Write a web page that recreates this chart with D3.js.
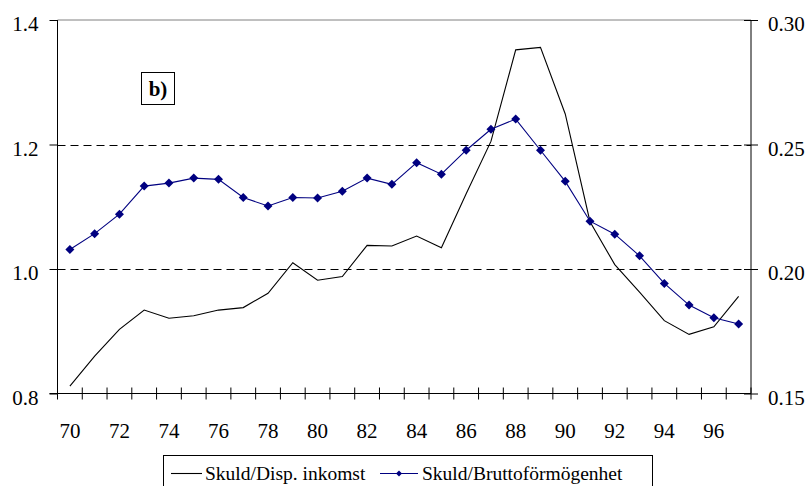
<!DOCTYPE html>
<html>
<head>
<meta charset="utf-8">
<script src="https://cdn.jsdelivr.net/npm/d3@7"></script>
<style>
  html, body { margin: 0; padding: 0; background: #fff; }
  svg { display: block; }
</style>
</head>
<body>
<svg id="chart" width="811" height="486" font-family="Liberation Serif"></svg>
<script>
const years = ["70","71","72","73","74","75","76","77","78","79","80","81","82","83","84","85","86","87","88","89","90","91","92","93","94","95","96","97"];
const skuldInkomst = [0.812,0.860,0.903,0.934,0.921,0.925,0.934,0.938,0.961,1.010,0.982,0.988,1.038,1.037,1.053,1.034,1.121,1.205,1.352,1.356,1.249,1.076,1.007,0.963,0.917,0.895,0.907,0.956];
const skuldBrutto = [0.2078,0.2142,0.2220,0.2333,0.2345,0.2365,0.2360,0.2287,0.2253,0.2287,0.2285,0.2312,0.2365,0.2340,0.2427,0.2381,0.2477,0.2561,0.2602,0.2477,0.2352,0.2192,0.2140,0.2053,0.1942,0.1855,0.1804,0.1779];
const leftTicks = [0.8, 1.0, 1.2, 1.4];
const rightTicks = [0.15, 0.20, 0.25, 0.30];
const gridTicks = [1.0, 1.2];
const xLabelYears = ["70","72","74","76","78","80","82","84","86","88","90","92","94","96"];
const seriesNames = ["Skuld/Disp. inkomst", "Skuld/Bruttoförmögenhet"];
const panelLabel = "b)";

const FONT = "Liberation Serif";
const svg = d3.select("#chart");
const L = 57.5, R = 751, T = 20, B = 393.5;

const x = d3.scaleBand().domain(years).range([L, R]).paddingInner(0).paddingOuter(0);
const yL = d3.scaleLinear().domain([0.8, 1.4]).range([B, T]);
const yR = d3.scaleLinear().domain([0.15, 0.30]).range([B, T]);
const cx = d => x(d) + x.bandwidth() / 2;

// top border
svg.append("line").attr("x1", L).attr("x2", R).attr("y1", T).attr("y2", T)
  .attr("stroke", "#808080").attr("stroke-width", 1);

// dashed grid
svg.append("g").selectAll("line").data(gridTicks).join("line")
  .attr("x1", L).attr("x2", R)
  .attr("y1", d => Math.round(yL(d)) + 0.5).attr("y2", d => Math.round(yL(d)) + 0.5)
  .attr("stroke", "#000").attr("stroke-width", 1).attr("stroke-dasharray", "8,5");

// left axis
const gL = svg.append("g").attr("transform", `translate(${L},0)`)
  .call(d3.axisLeft(yL).tickValues(leftTicks).tickFormat(d3.format(".1f")).tickSize(8).tickPadding(11));
gL.attr("font-family", FONT).attr("font-size", 21);
gL.select(".domain").attr("stroke", "#000").attr("d", `M0,${T}V${B}`);
gL.selectAll("text").attr("dy", "0.5em").attr("fill", "#000");

// right axis
const gR = svg.append("g").attr("transform", `translate(${R},0)`)
  .call(d3.axisRight(yR).tickValues(rightTicks).tickFormat(d3.format(".2f")).tickSize(7).tickPadding(10));
gR.attr("font-family", FONT).attr("font-size", 21);
gR.select(".domain").attr("stroke", "#000").attr("d", `M0,${T}V${B}`);
gR.selectAll(".tick line").attr("x1", -7);
gR.selectAll("text").attr("dy", "0.5em").attr("fill", "#000");

// x axis: ticks between categories
const boundaries = years.map(d => x(d)).concat([R]);
const gX = svg.append("g").attr("font-family", FONT).attr("font-size", 21);
gX.append("line").attr("x1", L - 8).attr("x2", R).attr("y1", B).attr("y2", B).attr("stroke", "#000");
gX.selectAll("line.t").data(boundaries).join("line").attr("class", "t")
  .attr("x1", d => d).attr("x2", d => d).attr("y1", B - 6).attr("y2", B + 6)
  .attr("stroke", "#000");
gX.selectAll("text").data(xLabelYears).join("text")
  .attr("x", d => cx(d)).attr("y", 437.5).attr("text-anchor", "middle")
  .attr("fill", "#000").text(d => d);

// black line (left axis)
const lineL = d3.line().x((d, i) => cx(years[i])).y(d => yL(d));
svg.append("path").datum(skuldInkomst).attr("d", lineL)
  .attr("fill", "none").attr("stroke", "#000").attr("stroke-width", 1.1);

// blue line (right axis)
const lineR = d3.line().x((d, i) => cx(years[i])).y(d => yR(d));
svg.append("path").datum(skuldBrutto).attr("d", lineR)
  .attr("fill", "none").attr("stroke", "#000080").attr("stroke-width", 1.1);
const diamond = "M0,-4.5L4.5,0L0,4.5L-4.5,0Z";
svg.append("g").selectAll("path").data(skuldBrutto).join("path")
  .attr("d", diamond)
  .attr("transform", (d, i) => `translate(${cx(years[i])},${yR(d)})`)
  .attr("fill", "#000080");

// panel label
svg.append("rect").attr("x", 141.5).attr("y", 72.5).attr("width", 33).attr("height", 32)
  .attr("fill", "#fff").attr("stroke", "#000").attr("stroke-width", 1);
svg.append("text").attr("x", 158).attr("y", 96).attr("text-anchor", "middle")
  .attr("font-family", FONT).attr("font-size", 21).attr("font-weight", "bold").text(panelLabel);

// legend
const lg = svg.append("g").attr("font-family", FONT).attr("font-size", 19.5);
lg.append("rect").attr("x", 163.5).attr("y", 455.5).attr("width", 489).attr("height", 40)
  .attr("fill", "#fff").attr("stroke", "#000").attr("stroke-width", 1);
lg.append("line").attr("x1", 171).attr("x2", 202).attr("y1", 473.5).attr("y2", 473.5)
  .attr("stroke", "#000").attr("stroke-width", 1.1);
lg.append("text").attr("x", 205).attr("y", 480).text(seriesNames[0]);
lg.append("line").attr("x1", 380).attr("x2", 418).attr("y1", 473.5).attr("y2", 473.5)
  .attr("stroke", "#000080").attr("stroke-width", 1.1);
lg.append("path").attr("d", "M0,-3L3,0L0,3L-3,0Z").attr("transform", "translate(399,473.5)").attr("fill", "#000080");
lg.append("text").attr("x", 422).attr("y", 480).text(seriesNames[1]);
</script>
</body>
</html>
